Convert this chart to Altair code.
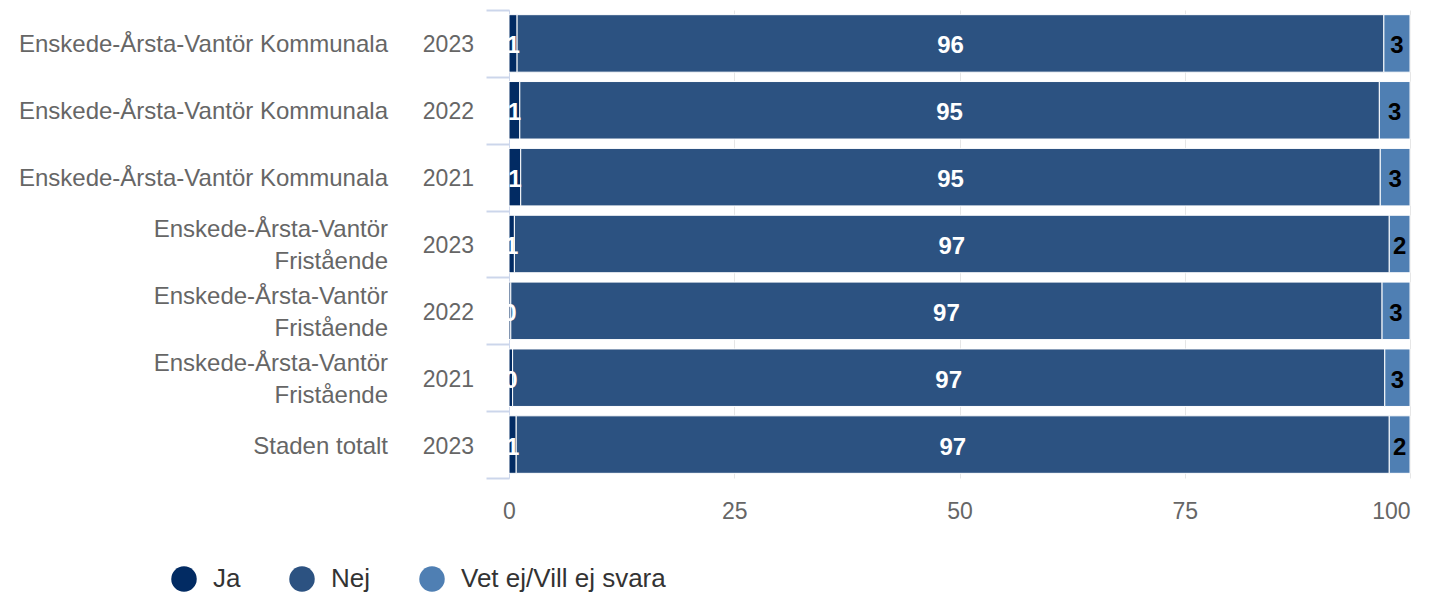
import altair as alt
import pandas as pd

groups = [
    "Enskede-Årsta-Vantör Kommunala",
    "Enskede-Årsta-Vantör Kommunala",
    "Enskede-Årsta-Vantör Kommunala",
    "Enskede-Årsta-Vantör\nFristående",
    "Enskede-Årsta-Vantör\nFristående",
    "Enskede-Årsta-Vantör\nFristående",
    "Staden totalt",
]
years = ["2023", "2022", "2021", "2023", "2022", "2021", "2023"]
ja = [0.9, 1.2, 1.3, 0.6, 0.2, 0.4, 0.8]
nej = [96.2, 95.4, 95.4, 97.1, 96.7, 96.8, 96.9]
vet = [2.9, 3.4, 3.3, 2.3, 3.1, 2.8, 2.3]
categories = ["Ja", "Nej", "Vet ej/Vill ej svara"]
colors = ["#022b63", "#2c5281", "#4f7fb3"]

rows = []
for i in range(len(years)):
    for k, (cat, vals) in enumerate(zip(categories, [ja, nej, vet])):
        rows.append({"row": i, "group": groups[i], "year": years[i],
                     "category": cat, "order": k, "value": vals[i]})
df = pd.DataFrame(rows)

FONT = "Liberation Sans"

y_enc = alt.Y(
    "row:O",
    scale=alt.Scale(paddingInner=0, paddingOuter=0),
    axis=alt.Axis(
        labels=False, title=None, tickBand="extent", tickSize=23, tickWidth=2,
        tickColor="#ccd6eb", domainColor="#ccd6eb", domainWidth=1, grid=False,
    ),
)

base = alt.Chart(df)

bars = base.mark_bar(stroke="white", strokeWidth=1, height=alt.RelativeBandSize(band=0.86)).encode(
    x=alt.X(
        "value:Q", stack="zero",
        scale=alt.Scale(domain=[0, 100], nice=False),
        axis=alt.Axis(
            values=[0, 25, 50, 75, 100], title=None, domain=False, ticks=False,
            labelFontSize=23, labelColor="#666666", labelFont=FONT, labelPadding=22,
            labelAlign=alt.expr("datum.value == 100 ? 'right' : 'center'"),
            grid=True, gridColor="#e6e6e6", gridWidth=1,
        ),
    ),
    y=y_enc,
    color=alt.Color(
        "category:N",
        scale=alt.Scale(domain=categories, range=colors),
        legend=alt.Legend(
            title=None, orient="none", direction="horizontal",
            legendX=-338, legendY=556,
            symbolType="circle", symbolSize=650, symbolStrokeWidth=0, symbolOpacity=1,
            labelFontSize=26, labelColor="#333333", labelFont=FONT, labelLimit=0,
            labelOffset=16, columnPadding=48, padding=0,
        ),
    ),
    order=alt.Order("order:Q"),
)

labels = base.transform_stack(
    stack="value", as_=["x0", "x1"], groupby=["row"], sort=[alt.SortField("order")]
).transform_calculate(
    mid="(datum.x0 + datum.x1) / 2",
    lc="datum.category == 'Vet ej/Vill ej svara' ? '#000000' : '#ffffff'",
).mark_text(fontSize=24, fontWeight="bold", font=FONT, baseline="middle", align="center", dy=3).encode(
    x=alt.X("mid:Q"),
    y=alt.Y("row:O"),
    text=alt.Text("value:Q", format=".0f"),
    color=alt.Color("lc:N", scale=None),
)

ylab_base = alt.Chart(pd.DataFrame({"row": list(range(len(years))), "group": groups, "year": years}))

group_one = ylab_base.transform_filter(
    "indexof(datum.group, '\\n') < 0"
).mark_text(
    align="right", baseline="middle", fontSize=24, color="#666666", font=FONT, dy=2,
).encode(x=alt.value(-121), y=alt.Y("row:O"), text="group:N")

group_two = ylab_base.transform_filter(
    "indexof(datum.group, '\\n') >= 0"
).mark_text(
    align="right", baseline="middle", fontSize=24, color="#666666", font=FONT,
    lineBreak="\n", lineHeight=32, dy=-14,
).encode(x=alt.value(-121), y=alt.Y("row:O"), text="group:N")

year_text = ylab_base.mark_text(
    align="right", baseline="middle", fontSize=23, color="#666666", font=FONT, dy=2,
).encode(x=alt.value(-35), y=alt.Y("row:O"), text="year:N")

chart = alt.layer(bars, labels, group_one, group_two, year_text).properties(
    width=901, height=468,
    autosize=alt.AutoSizeParams(type="none"),
    padding={"left": 501, "top": 2, "right": 10, "bottom": 118},
).configure_view(
    stroke="transparent", strokeWidth=0
).configure_axisX(
    domain=False, ticks=False
).configure_axisY(
    grid=False
)

chart.save("out.html", embed_options={"renderer": "svg", "actions": False})
